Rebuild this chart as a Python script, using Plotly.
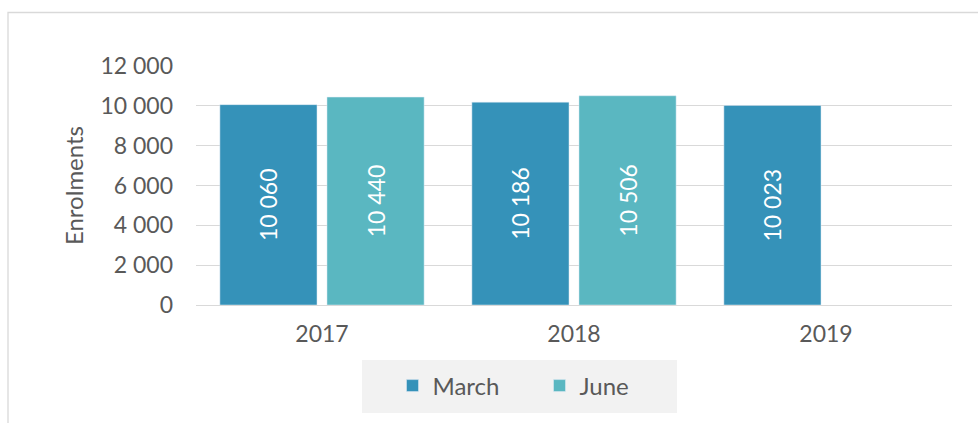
import plotly.graph_objects as go

categories = ["2017", "2018", "2019"]
march = [10060, 10186, 10023]
june = [10440, 10506, None]
series_names = ["March", "June"]
y_ticks = [0, 2000, 4000, 6000, 8000, 10000, 12000]

W, H = 978, 423
L, R, T, B = 196, 26, 66, 118
PW, PH = W - L - R, H - T - B

def px_x(p):
    return (p - L) / PW

def px_y(p):
    return (H - B - p) / PH

FONT = "Lato"
GRAY = "#595959"

fig = go.Figure()
fig.add_trace(go.Bar(
    x=categories, y=march, name=series_names[0], marker_color="#3592B9",
    texttemplate="%{y:,}", textposition="inside", insidetextanchor="middle",
    textangle=-90, textfont=dict(color="white", size=23, family=FONT),
))
fig.add_trace(go.Bar(
    x=categories, y=june, name=series_names[1], marker_color="#5AB7C1",
    texttemplate="%{y:,}", textposition="inside", insidetextanchor="middle",
    textangle=-90, textfont=dict(color="white", size=23, family=FONT),
))

fig.update_layout(
    width=W, height=H,
    margin=dict(l=L, r=R, t=T, b=B, pad=0),
    paper_bgcolor="white", plot_bgcolor="white",
    separators=", ",
    barmode="group", bargap=0.15, bargroupgap=0.093,
    font=dict(family=FONT, color=GRAY, size=23),
    showlegend=True,
    legend=dict(orientation="h", xanchor="center", x=px_x(539.5),
                yanchor="middle", y=px_y(386),
                bgcolor="rgba(0,0,0,0)", font=dict(size=24, color=GRAY),
                entrywidth=102, itemclick=False),
    shapes=[
        dict(type="rect", xref="paper", yref="paper",
             x0=px_x(8), x1=px_x(1000), y0=px_y(440), y1=px_y(12.5),
             line=dict(color="#D9D9D9", width=1.3), fillcolor="rgba(0,0,0,0)",
             layer="below"),
        dict(type="rect", xref="paper", yref="paper",
             x0=px_x(362), x1=px_x(677), y0=px_y(413), y1=px_y(360),
             line=dict(width=0), fillcolor="#F2F2F2", layer="below"),
    ],
)
fig.update_yaxes(
    range=[0, 12000], tickvals=y_ticks, tickformat=",d",
    showgrid=True, gridcolor="#D9D9D9", gridwidth=1,
    zeroline=True, zerolinecolor="#D9D9D9", zerolinewidth=1,
    showline=False, ticks="", ticklabelstandoff=22,
    tickfont=dict(size=23, color=GRAY, family=FONT),
    title=dict(text="Enrolments", font=dict(size=24, color=GRAY, family=FONT), standoff=10),
    fixedrange=True,
)
fig.update_xaxes(
    showgrid=False, zeroline=False, showline=False, ticks="",
    ticklabelstandoff=13,
    tickfont=dict(size=23, color=GRAY, family=FONT), fixedrange=True,
)

fig.write_html("out.html", config={"displayModeBar": False},
               post_script="document.body.style.margin='0';")
